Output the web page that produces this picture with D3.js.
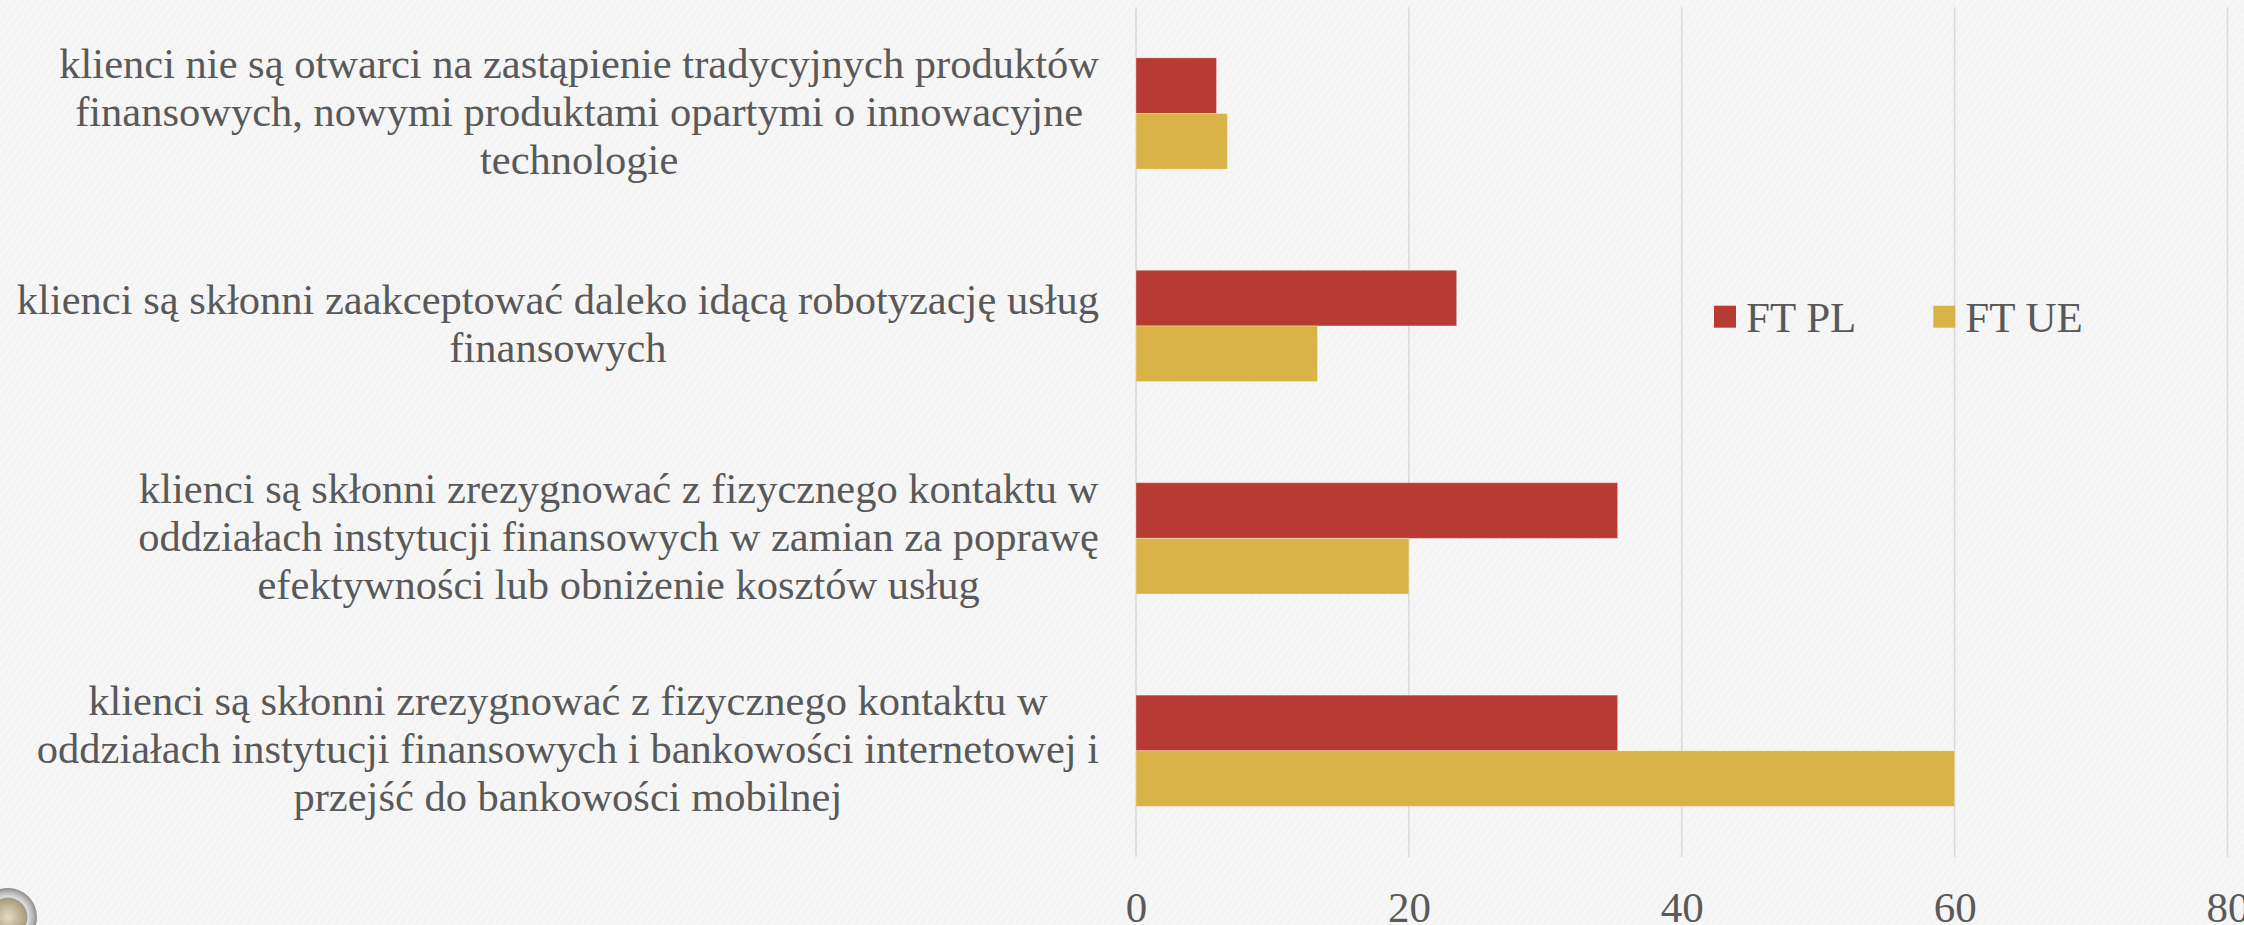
<!DOCTYPE html>
<html>
<head>
<meta charset="utf-8">
<script src="https://cdn.jsdelivr.net/npm/d3@7"></script>
<style>
  html, body { margin: 0; padding: 0; background: #f6f6f6; overflow: hidden; }
  svg { display: block; }
</style>
</head>
<body>
<div id="chart"></div>
<script>
// dane
var categories = [
  ["klienci nie są otwarci na zastąpienie tradycyjnych produktów", "finansowych, nowymi produktami opartymi o innowacyjne", "technologie"],
  ["klienci są skłonni zaakceptować daleko idącą robotyzację usług", "finansowych"],
  ["klienci są skłonni zrezygnować z fizycznego kontaktu w", "oddziałach instytucji finansowych w zamian za poprawę", "efektywności lub obniżenie kosztów usług"],
  ["klienci są skłonni zrezygnować z fizycznego kontaktu w", "oddziałach instytucji finansowych i bankowości internetowej i", "przejść do bankowości mobilnej"]
];
var seriesNames = ["FT PL", "FT UE"];
var seriesColors = ["#b83b33", "#d9b248"];
var ftPL = [5.9, 23.5, 35.3, 35.3];
var ftUE = [6.7, 13.3, 20, 60];
var xTicks = [0, 20, 40, 60, 80];

// canvas
var width = 2244;
var height = 925;
var font = "'Liberation Serif', 'Times New Roman', serif";
var textColor = "#595959";

var svg = d3.select("#chart")
  .append("svg")
  .attr("width", width)
  .attr("height", height);

// tlo
var defs = svg.append("defs");
var pat = defs.append("pattern")
  .attr("id", "tex")
  .attr("width", 6)
  .attr("height", 6)
  .attr("patternUnits", "userSpaceOnUse")
  .attr("patternTransform", "rotate(35)");
pat.append("rect").attr("width", 6).attr("height", 6).attr("fill", "#f6f6f6");
pat.append("line")
  .attr("x1", 0).attr("y1", 0).attr("x2", 0).attr("y2", 6)
  .attr("stroke", "#ececec").attr("stroke-width", 1.2);
svg.append("rect").attr("width", width).attr("height", height).attr("fill", "url(#tex)");

var grad = defs.append("radialGradient").attr("id", "ring");
grad.append("stop").attr("offset", "0.6").attr("stop-color", "#f2f2f2");
grad.append("stop").attr("offset", "0.85").attr("stop-color", "#b9b9b9");
grad.append("stop").attr("offset", "1").attr("stop-color", "#8c8c8c");
var coin = defs.append("radialGradient").attr("id", "coin");
coin.append("stop").attr("offset", "0").attr("stop-color", "#e3dcc6");
coin.append("stop").attr("offset", "1").attr("stop-color", "#a89a78");

// skale
var x = d3.scaleLinear().domain([0, 80]).range([1136, 2227.5]);
var y = d3.scaleBand()
  .domain(d3.range(categories.length))
  .range([7.3, 857])
  .paddingInner(0.476)
  .paddingOuter(0.238);
var ySub = d3.scaleBand()
  .domain(d3.range(seriesNames.length))
  .range([0, y.bandwidth()]);

var values = [ftPL, ftUE];

// siatka
var gGrid = svg.append("g");
var grid = gGrid.selectAll("line").data(xTicks).enter().append("line");
grid.attr("x1", function(d) { return x(d); })
  .attr("x2", function(d) { return x(d); })
  .attr("y1", 7.3)
  .attr("y2", 857)
  .attr("stroke", "#d9d9d9")
  .attr("stroke-width", 1.5);

// slupki
var gBars = svg.append("g");
for (var s = 0; s < values.length; s++) {
  gBars.append("g")
    .selectAll("rect")
    .data(values[s])
    .enter()
    .append("rect")
    .attr("x", x(0))
    .attr("y", function(d, i) { return y(i) + ySub(s); })
    .attr("width", function(d) { return x(d) - x(0); })
    .attr("height", ySub.bandwidth())
    .attr("fill", seriesColors[s])
    .attr("stroke", "#ffffff")
    .attr("stroke-opacity", 0.3)
    .attr("stroke-width", 1);
}

// os x
var xAxis = d3.axisBottom(x).tickValues(xTicks).tickSize(0).tickPadding(0);
var gAxis = svg.append("g")
  .attr("transform", "translate(0,890)")
  .call(xAxis);
gAxis.select(".domain").remove();
gAxis.selectAll("text")
  .attr("dy", null)
  .attr("y", 31.5)
  .attr("font-family", font)
  .attr("font-size", "43px")
  .attr("fill", textColor);

// etykiety kategorii
var rightEdge = 1099;
var lineH = 48;
var gLabels = svg.append("g");
for (var c = 0; c < categories.length; c++) {
  var lines = categories[c];
  var center = y(c) + y.bandwidth() / 2;
  var texts = [];
  var maxW = 0;
  for (var l = 0; l < lines.length; l++) {
    var t = gLabels.append("text")
      .attr("font-family", font)
      .attr("font-size", "42.5px")
      .attr("fill", textColor)
      .attr("text-anchor", "middle")
      .attr("y", center + (l - (lines.length - 1) / 2) * lineH + 12.5)
      .text(lines[l]);
    maxW = Math.max(maxW, t.node().getComputedTextLength());
    texts.push(t);
  }
  for (var k = 0; k < texts.length; k++) {
    texts[k].attr("x", rightEdge - maxW / 2);
  }
}

// legenda
var legendX = [1714, 1933.3];
var gLegend = svg.append("g");
var item = gLegend.selectAll("g").data(seriesNames).enter().append("g")
  .attr("transform", function(d, i) { return "translate(" + legendX[i] + ",305.7)"; });
item.append("rect")
  .attr("width", 22)
  .attr("height", 22)
  .attr("fill", function(d, i) { return seriesColors[i]; });
item.append("text")
  .attr("x", 32)
  .attr("y", 26)
  .attr("font-family", font)
  .attr("font-size", "43px")
  .attr("fill", textColor)
  .text(function(d) { return d; });

// ikonka w rogu
svg.append("circle").attr("cx", 8).attr("cy", 917).attr("r", 29).attr("fill", "url(#ring)");
svg.append("circle").attr("cx", 8).attr("cy", 917).attr("r", 19).attr("fill", "url(#coin)")
  .attr("stroke", "#9a9a9a").attr("stroke-width", 1);
</script>
</body>
</html>
